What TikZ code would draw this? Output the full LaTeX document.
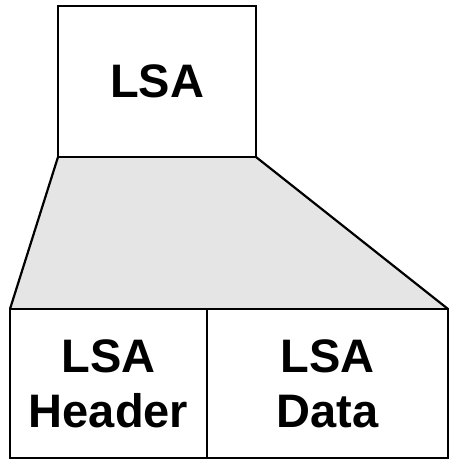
\documentclass[tikz,border=0pt]{standalone}
\usepackage{fontspec}
\setmainfont{Liberation Sans}
\usetikzlibrary{positioning,backgrounds}

\begin{document}
\begin{tikzpicture}[x=1pt,y=-1pt,every node/.style={draw, rectangle, line width=2.2pt, outer sep=0pt, align=center, font=\bfseries\fontsize{47}{55}\selectfont}]
	\useasboundingbox (0,0) rectangle (450,460);
	\node (lsa) [anchor=north west, minimum width=198pt, minimum height=151pt] at (58,6) {LSA};
	\node (header) [anchor=north west, minimum width=197pt, minimum height=149pt] at (10,309) {LSA\\Header};
	\node (data) [right=0pt of header, minimum width=241pt, minimum height=149pt] {LSA\\Data};
	
	\begin{scope}[on background layer]
	\fill [gray!20] (lsa.south west) -- (lsa.south east) -- (data.north east) -- (header.north west) -- cycle;
	\end{scope}
	\draw [line width=2.2pt] (lsa.south west) -- (header.north west);
	\draw [line width=2.2pt] (lsa.south east) -- (data.north east);
\end{tikzpicture}
\end{document}
